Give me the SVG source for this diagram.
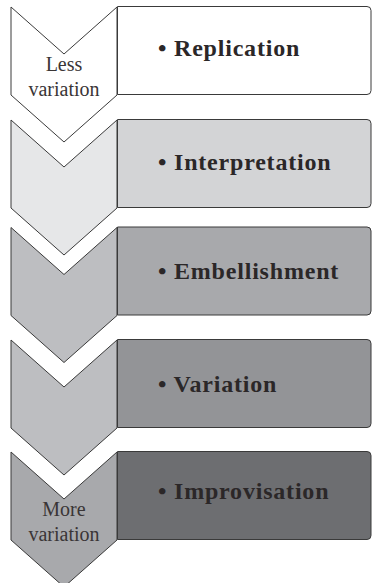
<svg xmlns="http://www.w3.org/2000/svg" width="372" height="583" viewBox="0 0 372 583">
  <style>
    .box { stroke: #3a3a3a; stroke-width: 1; stroke-linejoin: miter; }
    .item { font-family: "Liberation Serif", "Times New Roman", serif; font-weight: bold; font-size: 24px; fill: #2b2728; letter-spacing: 0.8px; }
    .side { font-family: "Liberation Serif", "Times New Roman", serif; font-size: 20px; fill: #3a3536; text-anchor: middle; }
  </style>
  <rect width="372" height="583" fill="#ffffff"/>

  <!-- chevron: x 11..117, arm depth 47, straight side 88 -->
  <g id="step1">
    <path class="box" fill="#ffffff" d="M117.5,6.5 H367 Q371,6.5 371,10.5 V90.5 Q371,94.5 367,94.5 H117.5 Z"/>
    <polygon class="box" fill="#ffffff" points="11,7 64,54 117,7 117,95 64,142 11,95"/>
    <text class="side" x="64" y="71">Less</text>
    <text class="side" x="64" y="96">variation</text>
    <text class="item" x="158" y="56">• Replication</text>
  </g>

  <g id="step2">
    <path class="box" fill="#d3d4d6" d="M117.5,119.5 H367 Q371,119.5 371,123.5 V203.5 Q371,207.5 367,207.5 H117.5 Z"/>
    <polygon class="box" fill="#e6e7e8" points="11,120 64,167 117,120 117,208 64,255 11,208"/>
    <text class="item" x="158" y="170">• Interpretation</text>
  </g>

  <g id="step3">
    <path class="box" fill="#a8a9ac" d="M117.5,227 H367 Q371,227 371,231 V311 Q371,315 367,315 H117.5 Z"/>
    <polygon class="box" fill="#bdbec1" points="11,227.5 64,274.5 117,227.5 117,315.5 64,362.5 11,315.5"/>
    <text class="item" x="158" y="279">• Embellishment</text>
  </g>

  <g id="step4">
    <path class="box" fill="#939497" d="M117.5,339.5 H367 Q371,339.5 371,343.5 V423.5 Q371,427.5 367,427.5 H117.5 Z"/>
    <polygon class="box" fill="#bdbec1" points="11,340 64,387 117,340 117,428 64,475 11,428"/>
    <text class="item" x="158" y="392">• Variation</text>
  </g>

  <g id="step5">
    <path class="box" fill="#6d6e71" d="M117.5,451.5 H367 Q371,451.5 371,455.5 V535.5 Q371,539.5 367,539.5 H117.5 Z"/>
    <polygon class="box" fill="#a8a9ac" points="11,452 64,499 117,452 117,540 64,587 11,540"/>
    <text class="side" x="64" y="516">More</text>
    <text class="side" x="64" y="541">variation</text>
    <text class="item" x="158" y="499">• Improvisation</text>
  </g>
</svg>
